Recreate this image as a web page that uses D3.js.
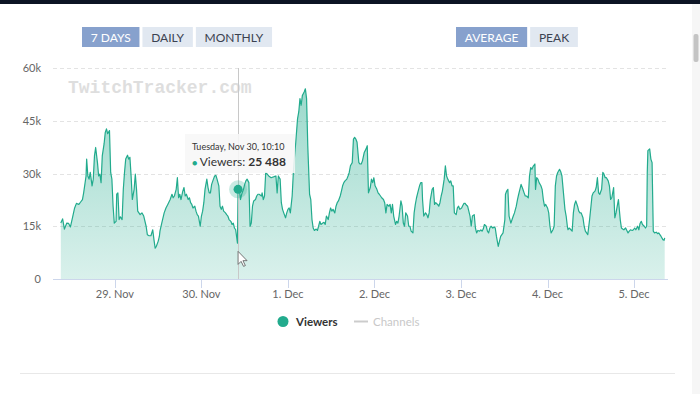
<!DOCTYPE html>
<html>
<head>
<meta charset="utf-8">
<script src="https://cdn.jsdelivr.net/npm/d3@7"></script>
<style>
  html, body { margin: 0; padding: 0; background: #fff; overflow: hidden; }
  svg { display: block; font-family: Lato, "Open Sans", sans-serif; }
</style>
</head>
<body>
<svg id="chart" width="700" height="394"></svg>
<script>
// minutes are counted from 28 Nov 2021 00:00
const seriesStart = Date.UTC(2021, 10, 28);

// [minute, viewers in thousands]
const viewerPoints = [
  [540,15.9],[570,17.1],[600,14.2],[640,15.9],[670,15.8],[700,14.8],[740,17.9],[770,20.2],[800,21.5],[840,21.2],
  [870,21.9],[900,22.6],[920,24.5],[960,29.3],[970,34.1],[990,29.3],[1010,28.4],[1030,30.3],[1060,26.5],[1080,28.4],
  [1100,35.0],[1120,37.4],[1150,33.1],[1170,29.3],[1190,29.8],[1210,27.4],[1230,35.0],[1260,38.4],[1280,41.7],[1300,42.7],
  [1320,41.3],[1350,42.2],[1370,30.3],[1390,28.4],[1410,20.7],[1430,15.9],[1460,16.4],[1470,24.1],[1490,24.5],[1510,16.9],
  [1530,17.7],[1560,16.9],[1580,25.5],[1600,30.3],[1620,34.1],[1650,35.2],[1670,34.1],[1690,34.6],[1710,29.3],[1730,22.6],
  [1760,25.5],[1780,29.8],[1800,25.5],[1820,19.3],[1860,18.3],[1890,18.8],[1920,17.9],[1960,15.0],[1980,12.6],[2010,12.3],
  [2040,12.3],[2070,14.0],[2090,11.2],[2110,8.8],[2130,9.3],[2160,10.7],[2180,12.1],
  [2190,13.6],[2220,15.9],[2260,18.8],[2290,20.2],[2320,21.2],[2360,22.6],[2390,24.1],[2410,23.1],[2430,23.6],[2460,25.5],
  [2480,28.8],[2500,23.1],[2520,24.1],[2540,22.6],[2570,25.0],[2590,26.0],[2610,23.6],[2630,24.1],[2660,22.6],[2680,23.1],
  [2700,21.7],[2720,21.2],[2740,20.2],[2770,20.7],[2790,19.3],[2810,18.3],[2830,17.9],[2860,15.0],[2880,17.9],[2900,19.3],
  [2920,21.7],[2940,25.5],[2970,28.4],[2990,26.0],[3010,24.5],[3030,24.5],[3050,26.9],[3080,28.4],[3100,29.3],[3120,29.5],
  [3140,28.4],[3170,26.5],[3190,20.7],[3210,19.8],[3230,20.7],[3250,19.3],[3280,18.8],[3300,18.3],[3320,17.9],[3340,16.9],
  [3370,16.4],[3390,15.5],[3410,15.9],[3430,14.5],[3450,14.0],[3480,10.2],[3490,25.488],[3510,26.0],[3530,22.6],[3550,24.1],
  [3580,25.5],[3600,26.9],[3620,27.9],[3640,28.4],[3670,27.4],[3690,15.0],[3710,15.9],[3730,20.7],[3750,22.2],[3780,22.6],
  [3800,23.6],[3820,24.1],[3840,24.1],[3880,23.6],
  [3890,24.5],[3910,22.6],[3930,23.6],[3950,30.3],[4000,29.3],[4040,28.8],[4090,29.1],[4120,29.3],[4140,24.5],[4160,29.3],
  [4190,28.4],[4210,21.7],[4230,19.8],[4250,18.8],[4280,17.4],[4300,18.8],[4320,19.8],[4340,20.2],[4360,18.8],[4390,23.6],
  [4410,30.3],[4430,35.0],[4450,38.9],[4480,45.6],[4500,47.5],[4520,51.3],[4540,49.4],[4560,52.2],[4590,53.2],[4610,54.1],
  [4630,51.3],[4650,37.9],[4680,24.1],[4700,22.6],[4720,16.9],[4740,14.5],[4760,13.8],[4790,14.2],[4810,13.8],[4830,15.0],
  [4850,16.4],[4870,15.5],[4900,15.9],[4920,16.1],[4940,15.5],[4960,17.9],[4990,16.9],[5010,18.8],[5030,20.2],[5050,19.3],
  [5070,19.8],[5100,18.8],[5120,20.7],[5140,21.7],[5160,22.2],[5190,23.6],[5210,25.0],[5230,26.5],[5250,27.4],[5270,27.9],
  [5300,28.4],[5320,29.3],[5340,30.3],[5360,32.2],[5390,33.1],[5410,39.8],[5430,40.3],[5450,39.8],[5470,38.9],[5500,33.1],
  [5520,32.7],[5540,32.7],[5560,33.6],
  [5590,36.0],[5620,37.0],[5640,37.9],[5660,24.5],[5690,26.0],[5710,28.4],[5730,27.4],[5750,28.8],[5770,26.5],[5800,25.5],
  [5820,24.5],[5840,24.1],[5860,23.6],[5880,23.1],[5910,22.6],[5930,21.7],[5950,18.8],[5970,21.2],[6000,20.7],[6020,21.2],
  [6040,18.8],[6060,21.2],[6080,17.9],[6110,15.5],[6130,16.4],[6150,15.9],[6170,17.9],[6200,22.2],[6220,20.7],[6240,15.9],
  [6260,15.0],[6280,18.8],[6310,17.9],[6330,15.0],[6350,15.0],[6370,13.6],[6400,13.1],[6420,18.8],[6440,21.2],[6460,23.1],
  [6480,24.5],[6510,26.5],[6530,27.4],[6550,27.4],[6560,22.6],[6580,17.9],[6610,18.8],[6630,18.3],[6650,17.4],[6670,18.8],
  [6690,22.6],[6720,25.5],[6740,26.0],[6760,21.2],[6780,21.7],[6810,21.2],[6830,20.7],[6850,21.7],[6870,23.6],[6890,25.0],
  [6920,28.4],[6940,32.2],[6960,29.3],[6980,28.4],[7010,27.4],[7030,27.9],[7050,26.5],[7070,26.5],[7090,18.8],[7120,18.3],
  [7140,20.2],[7160,20.7],[7180,19.8],[7210,20.2],[7230,20.9],[7250,21.5],[7270,21.5],
  [7280,21.2],[7310,20.7],[7330,19.3],[7350,17.9],[7370,15.0],[7390,17.9],[7420,18.3],[7440,14.5],[7460,13.1],[7480,13.8],
  [7510,13.6],[7530,14.0],[7550,13.6],[7570,14.2],[7590,15.5],[7620,15.0],[7640,13.6],[7660,13.1],[7680,14.5],[7700,15.0],
  [7730,14.5],[7750,14.8],[7770,14.5],[7790,12.1],[7820,9.3],[7840,10.7],[7860,12.1],[7880,12.6],[7900,13.1],[7930,16.9],
  [7940,24.1],[7960,25.0],[7980,25.5],[8000,17.9],[8030,15.9],[8050,16.9],[8070,17.9],[8090,18.8],[8120,20.7],[8140,22.6],
  [8160,24.1],[8180,25.5],[8200,26.9],[8230,25.5],[8250,24.5],[8270,23.6],[8290,23.6],[8320,23.1],[8340,29.3],[8360,31.7],
  [8380,31.2],[8400,32.0],[8430,32.7],[8440,25.5],[8460,28.8],[8480,28.4],[8500,27.4],[8530,26.5],[8550,25.5],[8570,22.6],
  [8590,20.7],[8610,21.2],[8640,20.2],[8660,18.8],[8680,15.0],[8700,13.1],[8730,14.0],[8750,15.0],[8770,26.5],[8790,29.3],
  [8810,30.3],[8840,31.2],[8860,30.5],[8880,29.3],[8900,25.5],[8930,19.8],[8950,17.9],[8970,15.0],
  [8980,14.0],[9000,14.5],[9030,14.0],[9050,13.6],[9070,18.8],[9090,21.2],[9110,22.2],[9140,20.7],[9160,19.3],[9180,18.8],
  [9200,18.8],[9230,17.4],[9250,15.0],[9270,13.6],[9290,13.1],[9310,12.6],[9340,16.9],[9360,20.2],[9380,23.6],[9400,24.5],
  [9430,25.0],[9450,26.0],[9470,28.8],[9490,24.5],[9510,24.1],[9540,25.5],[9560,30.3],[9580,29.8],[9600,28.8],[9620,28.8],
  [9650,27.9],[9670,26.5],[9690,22.6],[9710,23.1],[9740,26.0],[9760,17.4],[9780,18.8],[9800,20.7],[9820,22.6],[9850,16.9],
  [9870,14.5],[9890,14.2],[9910,14.0],[9940,14.5],[9960,13.8],[9980,13.1],[10000,13.6],[10020,14.0],[10050,13.8],[10070,14.0],
  [10090,14.5],[10110,14.0],[10140,15.0],[10160,14.0],[10180,15.8],[10200,16.4],[10220,15.5],[10250,15.0],[10270,14.5],[10290,15.0],
  [10300,30.3],[10310,36.5],[10340,37.0],[10360,34.1],[10380,33.1],[10400,13.6],[10420,13.1],[10450,13.3],[10470,12.9],[10490,13.1],
  [10510,12.6],[10530,12.1],[10560,11.2],[10580,11.0],[10590,11.7]
];

const yTicks = [0, 15000, 30000, 45000, 60000];
const yTickLabels = ["0", "15k", "30k", "45k", "60k"];
const dayTicks = [29, 30, 31, 32, 33, 34, 35]; // day numbers counted from 1 Nov
const dayTickLabels = ["29. Nov", "30. Nov", "1. Dec", "2. Dec", "3. Dec", "4. Dec", "5. Dec"];
const rangeButtons = ["7 DAYS", "DAILY", "MONTHLY"];
const modeButtons = ["AVERAGE", "PEAK"];
const legendItems = ["Viewers", "Channels"];
const hoverPoint = { minute: 3490, viewers: 25488, label: "Tuesday, Nov 30, 10:10" };

const teal = "#22ab8d";
const svg = d3.select("#chart");
const plot = { left: 53, right: 668, top: 68, bottom: 279 };

const data = viewerPoints.map(([m, v]) => ({ t: new Date(seriesStart + m * 60000), v: v * 1000 }));

const x = d3.scaleUtc()
  .domain([new Date(Date.UTC(2021, 10, 28, 6, 50)), new Date(Date.UTC(2021, 11, 5, 9, 25))])
  .range([plot.left, plot.right]);
const y = d3.scaleLinear().domain([0, 60000]).range([plot.bottom, plot.top]);

// page chrome
svg.append("rect").attr("x", 0).attr("y", 0).attr("width", 700).attr("height", 4).attr("fill", "#0c1424");
svg.append("rect").attr("x", 692).attr("y", 4).attr("width", 8).attr("height", 390).attr("fill", "#f6f6f6");
svg.append("rect").attr("x", 693.5).attr("y", 34).attr("width", 5).attr("height", 28).attr("rx", 2).attr("fill", "#c4c4c4");
svg.append("line").attr("x1", 20).attr("x2", 675).attr("y1", 373.5).attr("y2", 373.5)
  .attr("stroke", "#e8e8e8");

function buttonRow(labels, startX, active) {
  let cx = startX;
  labels.forEach((lab, i) => {
    const g = svg.append("g");
    const r = g.append("rect").attr("y", 27).attr("height", 20);
    const t = g.append("text").text(lab).attr("y", 41.5).attr("font-size", 12)
      .attr("fill", i === active ? "#fff" : "#3b4250");
    const w = t.node().getComputedTextLength() + 17.5;
    r.attr("x", cx).attr("width", w).attr("fill", i === active ? "#87a1cd" : "#e1e8f1");
    t.attr("x", cx + w / 2).attr("text-anchor", "middle");
    cx += w + 3;
  });
}
buttonRow(rangeButtons, 82, 0);
buttonRow(modeButtons, 456, 0);

// watermark
svg.append("text").text("TwitchTracker.com")
  .attr("x", 68).attr("y", 93).attr("font-family", "'Liberation Mono', 'DejaVu Sans Mono', monospace")
  .attr("font-weight", "bold").attr("font-size", 18).attr("fill", "#dedede");

// grid + y labels
svg.append("g").selectAll("line").data(yTicks.slice(1)).join("line")
  .attr("x1", plot.left).attr("x2", plot.right)
  .attr("y1", d => Math.round(y(d)) + 0.5).attr("y2", d => Math.round(y(d)) + 0.5)
  .attr("stroke", "#e3e3e3").attr("stroke-dasharray", "4,3");
svg.append("g").selectAll("text").data(yTicks).join("text")
  .attr("x", 41).attr("y", d => y(d) + 4).attr("text-anchor", "end")
  .attr("font-size", 11).attr("fill", "#666").text((d, i) => yTickLabels[i]);

// area
const grad = svg.append("defs").append("linearGradient").attr("id", "fillGrad")
  .attr("gradientUnits", "userSpaceOnUse").attr("x1", 0).attr("x2", 0)
  .attr("y1", plot.top).attr("y2", plot.bottom);
grad.append("stop").attr("offset", 0).attr("stop-color", teal).attr("stop-opacity", 0.48);
grad.append("stop").attr("offset", 1).attr("stop-color", teal).attr("stop-opacity", 0.17);

svg.append("path").datum(data)
  .attr("fill", "url(#fillGrad)")
  .attr("d", d3.area().x(d => x(d.t)).y0(y(0)).y1(d => y(d.v)));
svg.append("path").datum(data)
  .attr("fill", "none").attr("stroke", teal).attr("stroke-width", 1.2).attr("stroke-linejoin", "round")
  .attr("d", d3.line().x(d => x(d.t)).y(d => y(d.v)));

// x axis
const dayDates = dayTicks.map(d => new Date(Date.UTC(2021, 10, d)));
svg.append("line").attr("x1", plot.left).attr("x2", plot.right)
  .attr("y1", plot.bottom + 0.5).attr("y2", plot.bottom + 0.5).attr("stroke", "#ccd6eb");
svg.append("g").selectAll("line").data(dayDates).join("line")
  .attr("x1", d => Math.round(x(d)) + 0.5).attr("x2", d => Math.round(x(d)) + 0.5)
  .attr("y1", plot.bottom).attr("y2", plot.bottom + 9).attr("stroke", "#ccd6eb");
svg.append("g").selectAll("text").data(dayDates).join("text")
  .attr("x", d => x(d)).attr("y", 298).attr("text-anchor", "middle")
  .attr("font-size", 11).attr("fill", "#666").text((d, i) => dayTickLabels[i]);

// hover state
const hx = x(new Date(seriesStart + hoverPoint.minute * 60000));
const hy = y(hoverPoint.viewers);
svg.append("line").attr("x1", Math.round(hx) + 0.5).attr("x2", Math.round(hx) + 0.5)
  .attr("y1", plot.top).attr("y2", plot.bottom).attr("stroke", "#c8c8c8");
svg.append("circle").attr("cx", hx).attr("cy", hy).attr("r", 9).attr("fill", teal).attr("opacity", 0.25);
svg.append("circle").attr("cx", hx).attr("cy", hy).attr("r", 4.5).attr("fill", teal);

const tip = svg.append("g");
const tipBox = tip.append("rect").attr("fill", "#f7f7f7").attr("fill-opacity", 0.88);
tip.append("text").attr("x", 192).attr("y", 150).attr("font-size", 9).attr("fill", "#333")
  .text(hoverPoint.label);
const t2 = tip.append("text").attr("x", 192).attr("y", 166).attr("fill", "#333");
t2.append("tspan").attr("fill", teal).attr("font-size", 9).text("\u25CF ");
t2.append("tspan").attr("font-size", 12).text("Viewers: ");
t2.append("tspan").attr("font-size", 12).attr("font-weight", "bold").text(d3.format(",")(hoverPoint.viewers).replace(",", " "));
const tb = tip.node().getBBox();
tipBox.attr("x", 185).attr("y", 134).attr("width", tb.x + tb.width - 185 + 9).attr("height", 39);

// mouse pointer
svg.append("path").attr("transform", `translate(${hx},${hy + 62})`)
  .attr("d", "M0,0 L0,13 L3,10 L5.5,15 L7.3,14.2 L4.9,9.3 L9,9.3 Z")
  .attr("fill", "#fff").attr("stroke", "#666").attr("stroke-width", 0.9);

// legend
const lg = svg.append("g");
lg.append("circle").attr("cx", 283).attr("cy", 321.5).attr("r", 5.5).attr("fill", teal);
lg.append("text").attr("x", 296).attr("y", 326).attr("font-size", 11.5).attr("font-weight", "bold")
  .attr("fill", "#333").text(legendItems[0]);
lg.append("line").attr("x1", 354).attr("x2", 368).attr("y1", 321.5).attr("y2", 321.5)
  .attr("stroke", "#cccccc").attr("stroke-width", 2);
lg.append("text").attr("x", 373).attr("y", 326).attr("font-size", 11.5)
  .attr("fill", "#c8c8c8").text(legendItems[1]);
</script>
</body>
</html>
